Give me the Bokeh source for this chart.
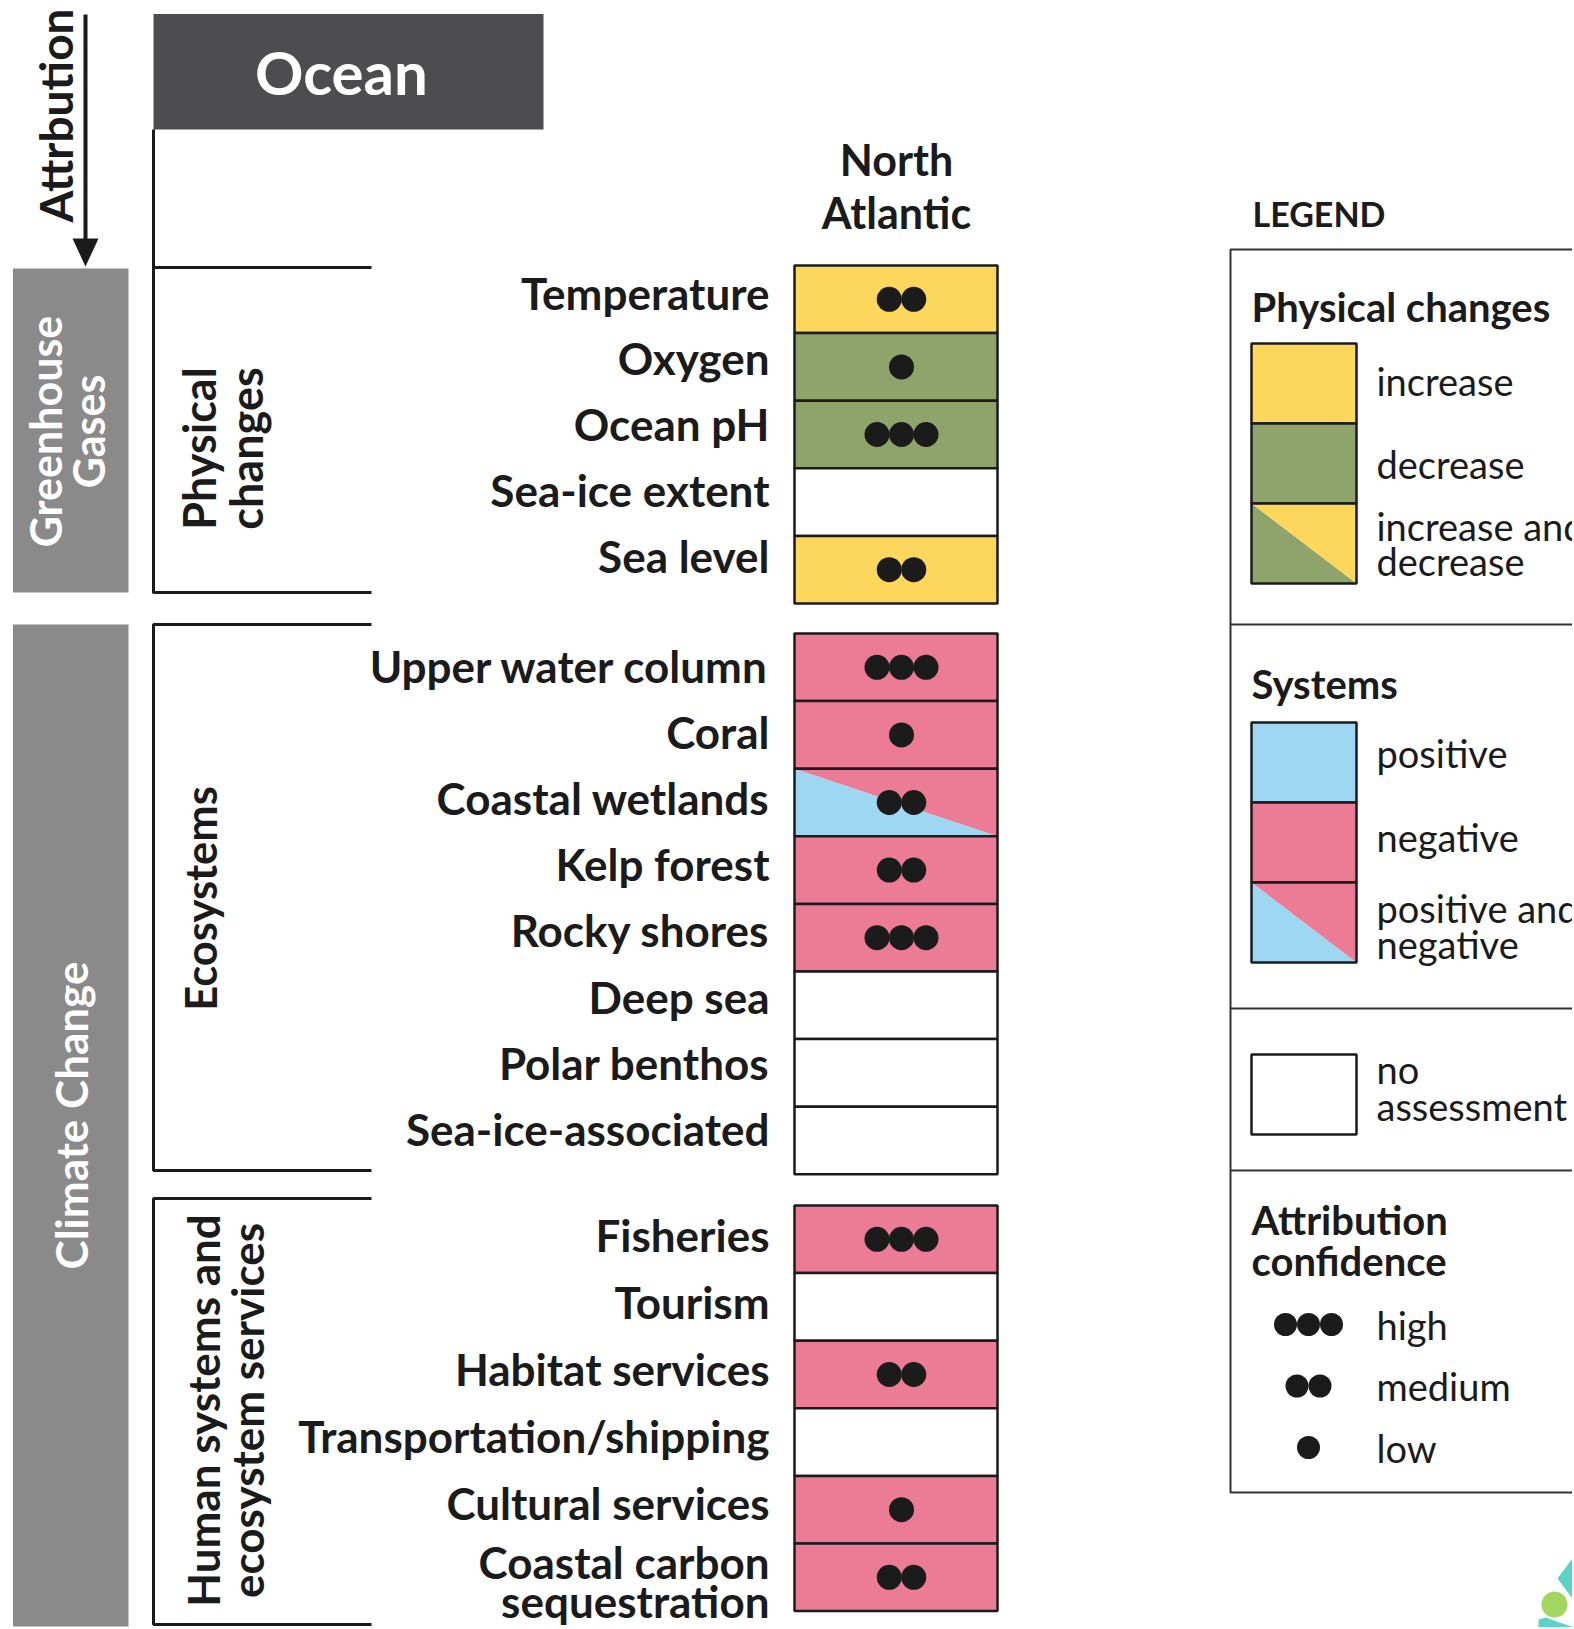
from math import pi
from bokeh.plotting import figure
from bokeh.models import Range1d, ColumnDataSource
from bokeh.core.properties import value
from bokeh.embed import file_html
from bokeh.resources import INLINE

# ---------------- data ----------------
region = ["North", "Atlantic"]

phys_labels = ["Temperature", "Oxygen", "Ocean pH", "Sea-ice extent", "Sea level"]
phys_effect = ["increase", "decrease", "decrease", "none", "increase"]
phys_conf = [2, 1, 3, 0, 2]

eco_labels = ["Upper water column", "Coral", "Coastal wetlands", "Kelp forest",
              "Rocky shores", "Deep sea", "Polar benthos", "Sea-ice-associated"]
eco_effect = ["negative", "negative", "positive and negative", "negative",
              "negative", "none", "none", "none"]
eco_conf = [3, 1, 2, 2, 3, 0, 0, 0]

hum_labels = ["Fisheries", "Tourism", "Habitat services", "Transportation/shipping",
              "Cultural services", "Coastal carbon\nsequestration"]
hum_effect = ["negative", "none", "negative", "none", "negative", "negative"]
hum_conf = [3, 0, 2, 0, 1, 2]

legend_phys = ["increase", "decrease", "increase and\ndecrease"]
legend_sys = ["positive", "negative", "positive and\nnegative"]
legend_none = ["no\nassessment"]
legend_conf = ["high", "medium", "low"]
legend_conf_n = [3, 2, 1]

# ---------------- style ----------------
FONT = "Lato"
YELLOW = "#FDD65C"
GREEN = "#8FA46A"
PINK = "#EC7C96"
BLUE = "#9DD7F2"
GREY = "#8A8A8A"
DARK = "#4D4C4E"
INK = "#1b1b1b"
COLORS = {"increase": YELLOW, "decrease": GREEN, "positive": BLUE,
          "negative": PINK, "none": "white"}
SPLIT = {"increase and decrease": (GREEN, YELLOW),
         "positive and negative": (BLUE, PINK)}

W, H = 1572, 1627
p = figure(width=W, height=H, x_range=Range1d(0, W), y_range=Range1d(H, 0),
           output_backend="svg", toolbar_location=None, min_border=0,
           x_axis_location=None, y_axis_location=None)
p.grid.visible = False
p.outline_line_color = None
p.background_fill_color = "white"
p.border_fill_color = "white"


def txt(x, y, s, size, bold=True, color=INK, align="left", angle=0.0, baseline="middle"):
    p.text(x=[x], y=[y], text=[s], text_font=value(FONT), text_font_size=f"{size}px",
           text_font_style="bold" if bold else "normal", text_color=color,
           text_align=align, text_baseline=baseline, angle=angle)


# ---------------- left header ----------------
p.quad(left=[153], right=[543], top=[13.5], bottom=[129], fill_color=DARK, line_color=None)
txt(341, 71, "Ocean", 60, color="white", align="center")

# attribution arrow
p.line(x=[85, 85], y=[14, 246], line_width=4, line_color=INK)
p.patch(x=[72, 98, 85], y=[238, 238, 266], fill_color=INK, line_color=None)
txt(55, 115, "Attrbution", 46, angle=pi / 2, align="center")

# grey side boxes
p.quad(left=[12.5, 12.5], right=[128, 128], top=[268, 624], bottom=[592, 1626],
       fill_color=GREY, line_color=None)
txt(45, 431, "Greenhouse", 43, color="white", angle=pi / 2, align="center")
txt(88, 431, "Gases", 43, color="white", angle=pi / 2, align="center")
txt(70, 1115, "Climate Change", 44, color="white", angle=pi / 2, align="center")

# brackets
BR = dict(line_width=3, line_color=INK)
p.line(x=[153, 153], y=[129, 593], **BR)
p.line(x=[153, 371], y=[267, 267], **BR)
p.line(x=[153, 371], y=[592, 592], **BR)
p.line(x=[371, 153, 153, 371], y=[624, 624, 1170, 1170], **BR)
p.line(x=[371, 153, 153, 371], y=[1198, 1198, 1624, 1624], **BR)

txt(198, 448, "Physical", 45, angle=pi / 2, align="center")
txt(245, 448, "changes", 45, angle=pi / 2, align="center")
txt(199, 898, "Ecosystems", 43.5, angle=pi / 2, align="center")
txt(202, 1410, "Human systems and", 44, angle=pi / 2, align="center")
txt(246, 1410, "ecosystem services", 44, angle=pi / 2, align="center")

# column header
txt(896, 159, region[0], 43, align="center")
txt(896, 212, region[1], 43, align="center")

# ---------------- matrix ----------------
CX0, CX1 = 794, 997
ROW_H = 67.6
DOT_X = 901
DOT_STEP = 24.5
LABEL_X = 769
LABEL_SIZE = 44

groups = [
    (phys_labels, phys_effect, phys_conf, 265, 292, 65.8),
    (eco_labels, eco_effect, eco_conf, 633, 665, 66.2),
    (hum_labels, hum_effect, hum_conf, 1205, 1234, 67.0),
]

q = dict(left=[], right=[], top=[], bottom=[], color=[])
tri_x, tri_y, tri_c = [], [], []
dx, dy = [], []
for labels, effects, confs, top, ltop, lstep in groups:
    for i, (lab, eff, n) in enumerate(zip(labels, effects, confs)):
        t = top + i * ROW_H
        b = t + ROW_H
        if eff in SPLIT:
            lo, hi = SPLIT[eff]
            tri_x += [[CX0, CX0, CX1], [CX0, CX1, CX1]]
            tri_y += [[t, b, b], [t, t, b]]
            tri_c += [lo, hi]
            q["color"].append("rgba(0,0,0,0)")
        else:
            q["color"].append(COLORS[eff])
        q["left"].append(CX0); q["right"].append(CX1)
        q["top"].append(t); q["bottom"].append(b)
        cy = (t + b) / 2
        for j in range(n):
            dx.append(DOT_X + (j - (n - 1) / 2) * DOT_STEP)
            dy.append(cy)
        ly = ltop + i * lstep
        parts = lab.split("\n")
        if len(parts) == 1:
            txt(LABEL_X, ly, lab, LABEL_SIZE, align="right")
        else:
            txt(LABEL_X, ly - 8, parts[0], LABEL_SIZE, align="right")
            txt(LABEL_X, ly + 31, parts[1], LABEL_SIZE, align="right")

p.patches(xs=tri_x, ys=tri_y, fill_color=tri_c, line_color=None)
p.quad(left="left", right="right", top="top", bottom="bottom", fill_color="color",
       line_color=INK, line_width=2.5, source=ColumnDataSource(q))
p.scatter(x=dx, y=dy, size=25, marker="circle", fill_color=INK, line_color=None)

# ---------------- legend ----------------
LB = dict(line_width=2, line_color="#333333")
p.line(x=[1600, 1230, 1230, 1600], y=[249, 249, 1492, 1492], **LB)
for yy in [624, 1008, 1170]:
    p.line(x=[1230, 1600], y=[yy, yy], **LB)

txt(1252, 213, "LEGEND", 34)
txt(1251, 306, "Physical changes", 40)
txt(1251, 683, "Systems", 40)
txt(1251, 1219, "Attribution", 40)
txt(1251, 1260, "confidence", 40)

SX0, SX1 = 1251, 1356
LX = 1376
LSIZE = 38


def swatches(top, items, colors_, label_y):
    h = 80
    for k, (lab, eff, ys) in enumerate(zip(items, colors_, label_y)):
        t = top + k * h
        b = t + h
        if eff in SPLIT:
            lo, hi = SPLIT[eff]
            p.patches(xs=[[SX0, SX0, SX1], [SX0, SX1, SX1]], ys=[[t, b, b], [t, t, b]],
                      fill_color=[lo, hi], line_color=None)
            p.quad(left=[SX0], right=[SX1], top=[t], bottom=[b], fill_color=None,
                   line_color=INK, line_width=2.5)
        else:
            p.quad(left=[SX0], right=[SX1], top=[t], bottom=[b], fill_color=COLORS[eff],
                   line_color=INK, line_width=2.5)
        for part, yy in zip(lab.split("\n"), ys):
            txt(LX, yy, part, LSIZE, bold=False)


swatches(343, legend_phys, ["increase", "decrease", "increase and decrease"],
         [[380], [463], [525, 560]])
swatches(722, legend_sys, ["positive", "negative", "positive and negative"],
         [[752], [836], [907, 943]])
swatches(1054, legend_none, ["none"], [[1068, 1105]])

ldx, ldy = [], []
for k, (lab, n) in enumerate(zip(legend_conf, legend_conf_n)):
    yy = 1324 + k * 61.5
    for j in range(n):
        ldx.append(1308 + (j - (n - 1) / 2) * 23)
        ldy.append(yy)
    txt(LX, yy, lab, LSIZE, bold=False)
p.scatter(x=ldx, y=ldy, size=23, marker="circle", fill_color=INK, line_color=None)

# corner logo fragment
p.patch(x=[1557, 1574, 1574], y=[1578, 1555, 1601], fill_color="#5CD3C8", line_color=None)
p.patch(x=[1538, 1538, 1545, 1574, 1574], y=[1629, 1619, 1617, 1627, 1629],
        fill_color="#5CD3C8", line_color=None)
p.scatter(x=[1554], y=[1604], size=26, marker="circle", fill_color="#A3D65F", line_color=None)

open("out.html", "w").write(file_html(p, INLINE))
